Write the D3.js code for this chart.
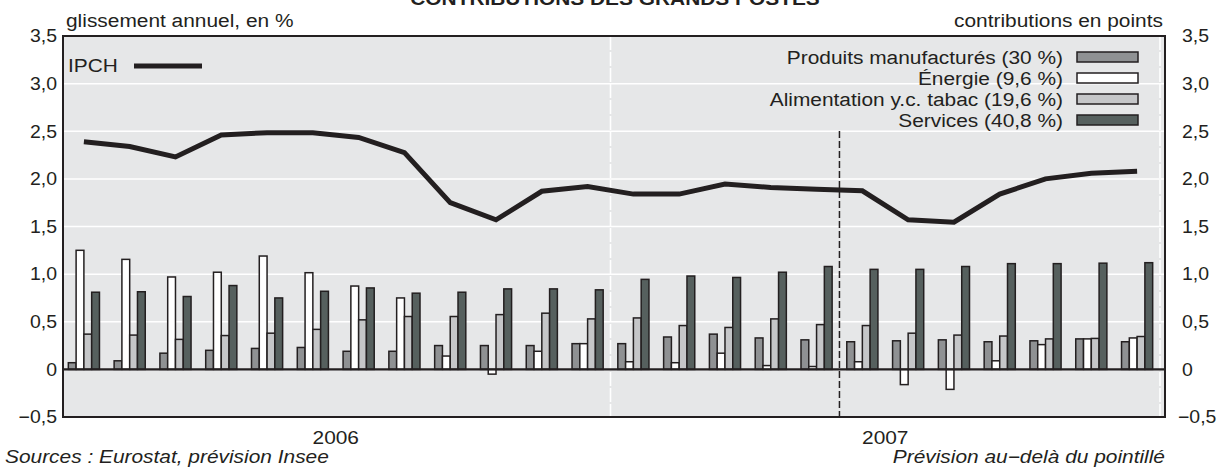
<!DOCTYPE html>
<html>
<head>
<meta charset="utf-8">
<script src="https://cdn.jsdelivr.net/npm/d3@7/dist/d3.min.js"></script>
<style>
  body { margin: 0; background: #fff; }
  svg text { font-family: "Liberation Sans", Arial, sans-serif; fill: #231f20; }
</style>
</head>
<body>
<div id="viz"></div>
<script>
/*##############################
#       Data                   #
###############################*/

var months = ["janv. 06","févr. 06","mars 06","avr. 06","mai 06","juin 06","juil. 06","août 06","sept. 06","oct. 06","nov. 06","déc. 06",
              "janv. 07","févr. 07","mars 07","avr. 07","mai 07","juin 07","juil. 07","août 07","sept. 07","oct. 07","nov. 07","déc. 07"];
var years = ["2006", "2007"];
var seriesNames = ["Produits manufacturés (30 %)", "Énergie (9,6 %)", "Alimentation y.c. tabac (19,6 %)", "Services (40,8 %)"];

var manufactures = [0.07,0.09,0.17,0.20,0.22,0.23,0.19,0.19,0.25,0.25,0.25,0.27,0.27,0.34,0.37,0.33,0.31,0.29,0.30,0.31,0.29,0.30,0.32,0.29];
var energie      = [1.25,1.155,0.97,1.02,1.19,1.015,0.875,0.75,0.14,-0.05,0.19,0.27,0.08,0.07,0.17,0.04,0.03,0.08,-0.16,-0.21,0.09,0.26,0.32,0.33];
var alimentation = [0.37,0.36,0.315,0.355,0.38,0.42,0.52,0.555,0.555,0.575,0.59,0.53,0.54,0.46,0.44,0.53,0.47,0.46,0.38,0.36,0.35,0.32,0.325,0.345];
var services     = [0.81,0.815,0.765,0.88,0.75,0.82,0.855,0.80,0.81,0.845,0.845,0.835,0.945,0.98,0.965,1.02,1.08,1.05,1.05,1.08,1.11,1.11,1.115,1.12];
var ipch         = [2.39,2.34,2.23,2.46,2.485,2.485,2.435,2.275,1.75,1.57,1.87,1.92,1.84,1.84,1.945,1.91,1.89,1.875,1.57,1.545,1.84,2.0,2.06,2.08];

var yTicks = [3.5, 3.0, 2.5, 2.0, 1.5, 1.0, 0.5, 0, -0.5];
var forecastFrom = "juin 07";   // prévision au-delà du pointillé

var colors = ["#8f9193", "#ffffff", "#c5c6c8", "#56605e"];

/*##############################
#       Chart                  #
###############################*/

const W = 1222, H = 468;
const box = {left: 63, right: 1165, top: 36, bottom: 417};

const svg = d3.select("#viz").append("svg")
    .attr("width", W)
    .attr("height", H);

// month scale and bars inside each month
var x = d3.scaleBand()
    .domain(months)
    .range([61, 1160]);

var y = d3.scaleLinear()
    .domain([-0.5, 3.5])
    .range([box.bottom, box.top]);

var xSub = d3.scaleBand()
    .domain(d3.range(4))
    .range([0, x.bandwidth() * 0.68]);

var fmt = function(d) {
    if (d == 0) return "0";
    return d3.format(".1f")(d).replace(".", ",").replace("-", "\u2212");
};

// background
svg.append("rect")
    .attr("x", box.left).attr("y", box.top)
    .attr("width", box.right - box.left)
    .attr("height", box.bottom - box.top)
    .attr("fill", "#e6e7e8");

// white horizontal grid
svg.append("g")
    .selectAll("line")
    .data(yTicks.filter(function(d){ return d != 3.5 && d != -0.5 && d != 0; }))
    .enter().append("line")
    .attr("x1", box.left).attr("x2", box.right)
    .attr("y1", function(d){ return y(d); })
    .attr("y2", function(d){ return y(d); })
    .attr("stroke", "#fff")
    .attr("stroke-width", 1.5);

// white dashed year separators
svg.append("g")
    .selectAll("line")
    .data(["janv. 07", null])
    .enter().append("line")
    .attr("x1", function(d){ return d ? x(d) : x.range()[1]; })
    .attr("x2", function(d){ return d ? x(d) : x.range()[1]; })
    .attr("y1", box.top).attr("y2", box.bottom)
    .attr("stroke", "#fff")
    .attr("stroke-width", 1.6)
    .attr("stroke-dasharray", "14,2");

// bars
var rows = months.map(function(m, i) {
    return {month: m, vals: [manufactures[i], energie[i], alimentation[i], services[i]]};
});

var groups = svg.append("g")
    .selectAll("g")
    .data(rows)
    .enter().append("g")
    .attr("transform", function(d){ return "translate(" + (x(d.month) + x.bandwidth() * 0.16) + ",0)"; });

groups.selectAll("rect")
    .data(function(d){ return d.vals.map(function(v, k){ return {k: k, v: v}; }); })
    .enter().append("rect")
    .attr("x", function(d){ return xSub(d.k); })
    .attr("width", xSub.bandwidth())
    .attr("y", function(d){ return y(Math.max(0, d.v)); })
    .attr("height", function(d){ return Math.abs(y(d.v) - y(0)); })
    .attr("fill", function(d){ return colors[d.k]; })
    .attr("stroke", "#231f20")
    .attr("stroke-width", 1.5);

// zero line
svg.append("line")
    .attr("x1", box.left).attr("x2", box.right)
    .attr("y1", y(0)).attr("y2", y(0))
    .attr("stroke", "#231f20")
    .attr("stroke-width", 2.2);

// forecast dashed line
svg.append("line")
    .attr("x1", x(forecastFrom)).attr("x2", x(forecastFrom))
    .attr("y1", 131).attr("y2", box.bottom)
    .attr("stroke", "#231f20")
    .attr("stroke-width", 1.5)
    .attr("stroke-dasharray", "7,3");

// IPCH line
var line = d3.line()
    .x(function(d, i){ return x(months[i]) + x.bandwidth() / 2; })
    .y(function(d){ return y(d); });

svg.append("path")
    .datum(ipch)
    .attr("d", line)
    .attr("fill", "none")
    .attr("stroke", "#231f20")
    .attr("stroke-width", 5);

// frame
svg.append("rect")
    .attr("x", box.left).attr("y", box.top)
    .attr("width", box.right - box.left)
    .attr("height", box.bottom - box.top)
    .attr("fill", "none")
    .attr("stroke", "#231f20")
    .attr("stroke-width", 2);

/*##############################
#       Axes                   #
###############################*/

var yLeft = svg.append("g")
    .attr("transform", "translate(" + (box.left - 6) + ",0)")
    .call(d3.axisLeft(y).tickValues(yTicks).tickFormat(fmt).tickSize(0).tickPadding(0));

var yRight = svg.append("g")
    .attr("transform", "translate(" + (box.right + 17) + ",0)")
    .call(d3.axisRight(y).tickValues(yTicks).tickFormat(fmt).tickSize(0).tickPadding(0));

[yLeft, yRight].forEach(function(a) {
    a.select(".domain").remove();
    a.selectAll("text")
        .attr("class", "tick-label")
        .attr("font-size", 18)
        .attr("font-family", "Liberation Sans, Arial, sans-serif")
        .attr("fill", "#231f20");
});

// the minus sign sticks out a bit on the right side
yRight.selectAll("text")
    .attr("dx", function(d){ return d < 0 ? -4 : 0; });

svg.append("g")
    .selectAll("text")
    .data(years)
    .enter().append("text")
    .attr("x", function(d, i){ return x(months[i * 12]) + 6 * x.step(); })
    .attr("y", 444)
    .attr("text-anchor", "middle")
    .attr("font-size", 18)
    .text(function(d){ return d; });

/*##############################
#       Labels and legend      #
###############################*/

svg.append("text")
    .attr("x", 615).attr("y", 5)
    .attr("text-anchor", "middle")
    .attr("font-size", 18)
    .attr("font-weight", "bold")
    .text("CONTRIBUTIONS DES GRANDS POSTES");

svg.append("text")
    .attr("x", 66).attr("y", 27)
    .attr("font-size", 18)
    .text("glissement annuel, en %");

svg.append("text")
    .attr("x", 1163).attr("y", 27)
    .attr("text-anchor", "end")
    .attr("font-size", 18)
    .text("contributions en points");

svg.append("text")
    .attr("x", 5).attr("y", 463)
    .attr("font-size", 18)
    .attr("font-style", "italic")
    .text("Sources : Eurostat, prévision Insee");

svg.append("text")
    .attr("x", 1165).attr("y", 463)
    .attr("text-anchor", "end")
    .attr("font-size", 18)
    .attr("font-style", "italic")
    .text("Prévision au\u2212delà du pointillé");

// IPCH legend
svg.append("text")
    .attr("x", 68).attr("y", 72)
    .attr("font-size", 18)
    .text("IPCH");
svg.append("line")
    .attr("x1", 134).attr("x2", 202)
    .attr("y1", 66).attr("y2", 66)
    .attr("stroke", "#231f20")
    .attr("stroke-width", 5);

// bars legend
var legend = svg.append("g")
    .selectAll("g")
    .data(seriesNames)
    .enter().append("g")
    .attr("transform", function(d, i){ return "translate(0," + (57 + i * 21) + ")"; });

legend.append("rect")
    .attr("x", 1077).attr("y", -5)
    .attr("width", 61).attr("height", 10)
    .attr("fill", function(d, i){ return colors[i]; })
    .attr("stroke", "#231f20")
    .attr("stroke-width", 1.5);

legend.append("text")
    .attr("x", 1063).attr("y", 6.5)
    .attr("text-anchor", "end")
    .attr("font-size", 18)
    .text(function(d){ return d; });

// the original lettering is a bit wider than Liberation Sans
svg.selectAll("text").each(function() {
    var len = this.getComputedTextLength();
    var k = d3.select(this).classed("tick-label") ? 1.08 : 1.16;
    d3.select(this)
        .attr("textLength", len * k)
        .attr("lengthAdjust", "spacingAndGlyphs");
});
</script>
</body>
</html>
